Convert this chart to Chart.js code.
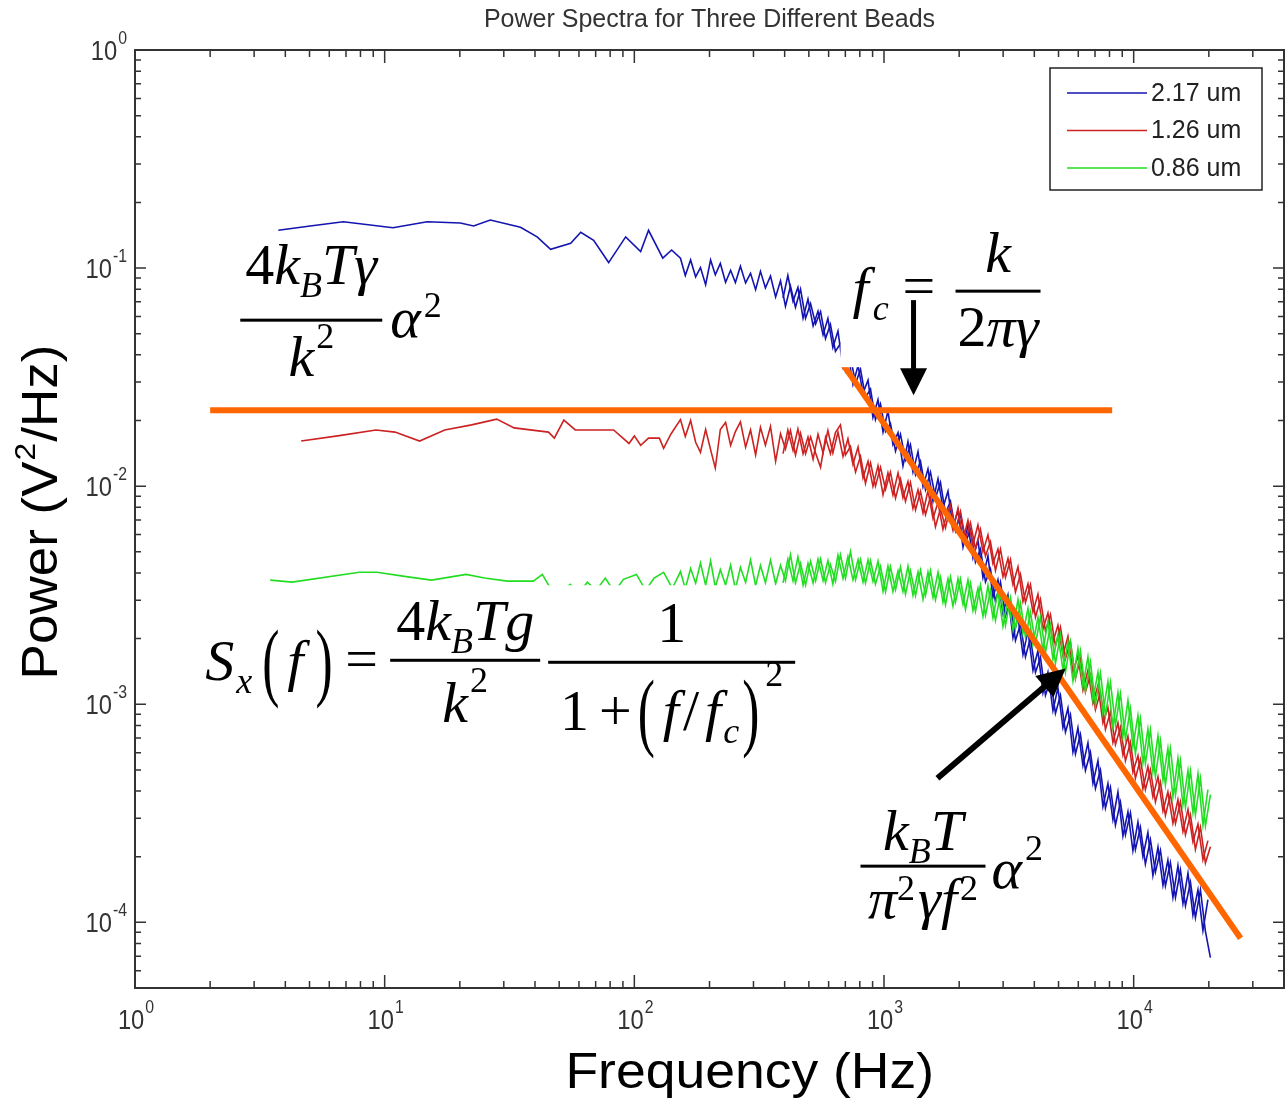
<!DOCTYPE html>
<html>
<head>
<meta charset="utf-8">
<title>Power Spectra for Three Different Beads</title>
<script src="https://cdn.jsdelivr.net/npm/chart.js@4.4.1/dist/chart.umd.min.js"></script>
<style>
  html, body { margin: 0; padding: 0; background: #fff; }
  #wrap { width: 1285px; height: 1101px; position: relative; }
</style>
</head>
<body>
<div id="wrap"><canvas id="spectra"></canvas></div>
<script>
// ---- values (frequency in Hz, power in V^2/Hz) ----
const beadLabels = ['2.17 um', '1.26 um', '0.86 um'];

// sparse low-frequency part of each spectrum
const blueLowFreq = [3.75, 5.03, 6.83, 10.8, 14.8, 20.1, 22.7, 26.5, 35.0, 40.8, 46.2, 55.6, 61.0, 68.7, 78.9, 92.3, 106, 114, 130, 141];
const blueLowPower = [0.149, 0.156, 0.163, 0.153, 0.163, 0.161, 0.156, 0.166, 0.154, 0.139, 0.122, 0.130, 0.146, 0.134, 0.106, 0.139, 0.119, 0.149, 0.111, 0.121];

const redLowFreq = [4.63, 6.48, 9.23, 11.0, 13.8, 17.4, 22.3, 28.1, 33.0, 45.3, 47.8, 52.2, 58.0, 82.6, 95.2, 100, 106, 114, 126, 131, 140];
const redLowPower = [0.0161, 0.0170, 0.0181, 0.0177, 0.0161, 0.0181, 0.0191, 0.0203, 0.0185, 0.0177, 0.0166, 0.0201, 0.0181, 0.0181, 0.0157, 0.0170, 0.0154, 0.0166, 0.0166, 0.0149, 0.0173];

const greenLowFreq = [3.48, 4.26, 7.91, 9.33, 12.0, 15.4, 21.2, 25.1, 31.0, 39.4, 42.8, 45.6, 50.5, 55.4, 59.7, 64.8, 70.4, 76.5, 83.2, 90.4, 102, 111, 120, 131, 142];
const greenLowPower = [0.00371, 0.00363, 0.00403, 0.00403, 0.00386, 0.00371, 0.00394, 0.00379, 0.00367, 0.00367, 0.00394, 0.00348, 0.00327, 0.00355, 0.00320, 0.00363, 0.00333, 0.00379, 0.00327, 0.00374, 0.00394, 0.00333, 0.00379, 0.00403, 0.00340];

// dense, noisy part (same frequency bins for all three beads)
const denseFreq = [153, 160, 168, 176, 184, 193, 202, 211, 221, 232,
  243, 254, 266, 279, 292, 306, 320, 335, 351, 368,
  385, 403, 422, 442, 463, 485, 508, 532, 557, 583,
  610, 639, 669, 701, 734, 769, 805, 843, 883, 924,
  968, 1014, 1061, 1112, 1164, 1219, 1276, 1337, 1400, 1466,
  1535, 1607, 1683, 1763, 1846, 1933, 2024, 2120, 2220, 2324,
  2434, 2549, 2669, 2795, 2927, 3065, 3210, 3361, 3520, 3686,
  3860, 4042, 4232, 4432, 4641, 4860, 5089, 5330, 5581, 5844,
  6120, 6409, 6711, 7028, 7360, 7707, 8070, 8451, 8850, 9268,
  9705, 10160, 10640, 11140, 11670, 12220, 12800, 13400, 14030, 14700,
  15390, 16120, 16880, 17670, 18510, 19380, 20290];

const blueDensePower = [0.111, 0.0925, 0.109, 0.0912, 0.1005, 0.0839, 0.109, 0.0931, 0.105, 0.0861,
  0.0977, 0.0859, 0.102, 0.0855, 0.0946, 0.0796, 0.0966, 0.0811, 0.0920, 0.0738,
  0.0875, 0.0668, 0.0826, 0.0661, 0.0800, 0.0589, 0.0687, 0.0555, 0.0632, 0.0475,
  0.0552, 0.0415, 0.0451, 0.0338, 0.0394, 0.0295, 0.0344, 0.0255, 0.0279, 0.0202,
  0.0238, 0.0178, 0.0194, 0.0145, 0.0173, 0.0132, 0.0155, 0.0113, 0.0130, 0.00964,
  0.0116, 0.00885, 0.0104, 0.00748, 0.00851, 0.00624, 0.00743, 0.00551, 0.00632, 0.00448,
  0.00514, 0.00364, 0.00417, 0.00295, 0.00363, 0.00254, 0.00294, 0.00196, 0.00233, 0.00165,
  0.00202, 0.00140, 0.00164, 0.00110, 0.00130, 0.000908, 0.00110, 0.000745, 0.000895, 0.000592,
  0.000728, 0.000497, 0.000603, 0.000411, 0.000499, 0.000334, 0.000416, 0.000279, 0.000356, 0.000252,
  0.000318, 0.000216, 0.000273, 0.000185, 0.000239, 0.000170, 0.000214, 0.000147, 0.000188, 0.000130,
  0.000174, 0.000119, 0.000153, 0.000105, 0.000141, 0.0000908, 0.0000689];

const redDensePower = [0.0202, 0.0169, 0.0200, 0.0159, 0.0143, 0.0182, 0.0147, 0.0121, 0.0182, 0.0196,
  0.0154, 0.0178, 0.0197, 0.0151, 0.0181, 0.0139, 0.0186, 0.0154, 0.0188, 0.0130,
  0.0174, 0.0148, 0.0180, 0.0139, 0.0175, 0.0141, 0.0168, 0.0142, 0.0122, 0.0167,
  0.0141, 0.0176, 0.0191, 0.0139, 0.0152, 0.0116, 0.0137, 0.0103, 0.0128, 0.0100,
  0.0122, 0.00968, 0.0116, 0.00881, 0.0108, 0.00851, 0.0104, 0.00778, 0.00946, 0.00740,
  0.00893, 0.00652, 0.00789, 0.00644, 0.00815, 0.00635, 0.00767, 0.00568, 0.00681, 0.00516,
  0.00634, 0.00478, 0.00557, 0.00411, 0.00514, 0.00382, 0.00461, 0.00327, 0.00394, 0.00293,
  0.00354, 0.00251, 0.00303, 0.00217, 0.00258, 0.00185, 0.00226, 0.00162, 0.00193, 0.00132,
  0.00161, 0.00114, 0.00136, 0.000944, 0.00114, 0.000767, 0.000923, 0.000653, 0.000785, 0.000550,
  0.000670, 0.000458, 0.000558, 0.000406, 0.000501, 0.000356, 0.000440, 0.000309, 0.000386, 0.000284,
  0.000356, 0.000252, 0.000311, 0.000216, 0.000273, 0.000187, 0.000222];

const greenDensePower = [0.00406, 0.00339, 0.00419, 0.00359, 0.00444, 0.00352, 0.00454, 0.00344, 0.00414, 0.00352,
  0.00434, 0.00337, 0.00424, 0.00362, 0.00459, 0.00350, 0.00433, 0.00361, 0.00458, 0.00357,
  0.00433, 0.00368, 0.00485, 0.00360, 0.00443, 0.00352, 0.00453, 0.00368, 0.00463, 0.00361,
  0.00437, 0.00366, 0.00484, 0.00378, 0.00501, 0.00373, 0.00461, 0.00360, 0.00455, 0.00355,
  0.00429, 0.00328, 0.00427, 0.00335, 0.00426, 0.00320, 0.00409, 0.00315, 0.00412, 0.00316,
  0.00410, 0.00301, 0.00382, 0.00286, 0.00383, 0.00294, 0.00375, 0.00272, 0.00359, 0.00267,
  0.00352, 0.00256, 0.00332, 0.00242, 0.00320, 0.00230, 0.00308, 0.00222, 0.00291, 0.00203,
  0.00264, 0.00189, 0.00251, 0.00173, 0.00229, 0.00154, 0.00208, 0.00140, 0.00193, 0.00131,
  0.00176, 0.00115, 0.00156, 0.000998, 0.00139, 0.000887, 0.00126, 0.000804, 0.00112, 0.000692,
  0.000957, 0.000593, 0.000859, 0.000536, 0.000764, 0.000466, 0.000681, 0.000427, 0.000627, 0.000384,
  0.000551, 0.000337, 0.000495, 0.000311, 0.000457, 0.000277, 0.000385];

// in-between bins above ~400 Hz, where the traces turn into a solid noisy band
const midFreq = [394, 412, 432, 452, 474, 496, 520, 544, 570, 596,
  624, 654, 685, 717, 751, 787, 824, 863, 903, 946,
  991, 1037, 1086, 1138, 1191, 1247, 1306, 1368, 1433, 1500,
  1571, 1645, 1722, 1804, 1889, 1978, 2072, 2169, 2271, 2378,
  2491, 2608, 2731, 2860, 2995, 3137, 3285, 3440, 3602, 3772,
  3950, 4136, 4331, 4535, 4749, 4973, 5208, 5454, 5711, 5980,
  6263, 6558, 6868, 7192, 7531, 7886, 8258, 8648, 9057, 9484,
  9930, 10400, 10890, 11400, 11940, 12510, 13100, 13710, 14360, 15040,
  15750, 16500, 17270, 18090, 18940, 19830];

const blueMidPower = [0.0729, 0.0925, 0.0705, 0.0815, 0.0590, 0.0721, 0.0543, 0.0634, 0.0494, 0.0587,
  0.0432, 0.0514, 0.0352, 0.0409, 0.0293, 0.0357, 0.0267, 0.0306, 0.0207, 0.0249,
  0.0177, 0.0221, 0.0155, 0.0176, 0.0124, 0.0160, 0.0116, 0.0144, 0.00995, 0.0120,
  0.00853, 0.0108, 0.00796, 0.00948, 0.00649, 0.00773, 0.00526, 0.00662, 0.00469, 0.00564,
  0.00381, 0.00479, 0.00309, 0.00372, 0.00261, 0.00317, 0.00202, 0.00251, 0.00169, 0.00217,
  0.00143, 0.00176, 0.00113, 0.00140, 0.000935, 0.00119, 0.000780, 0.000959, 0.000605, 0.000780,
  0.000524, 0.000665, 0.000434, 0.000551, 0.000340, 0.000433, 0.000296, 0.000396, 0.000249, 0.000321,
  0.000213, 0.000288, 0.000200, 0.000258, 0.000164, 0.000221, 0.000148, 0.000193, 0.000130, 0.000182,
  0.000122, 0.000168, 0.000108, 0.000141, 0.0000918, 0.000127];

const redMidPower = [0.0141, 0.0181, 0.0146, 0.0183, 0.0141, 0.0168, 0.0133, 0.0173, 0.0142, 0.0180,
  0.0142, 0.0177, 0.0137, 0.0165, 0.0126, 0.0151, 0.0109, 0.0130, 0.00998, 0.0124,
  0.00914, 0.0115, 0.00912, 0.0115, 0.00885, 0.0105, 0.00791, 0.00962, 0.00753, 0.00955,
  0.00711, 0.00841, 0.00635, 0.00785, 0.00627, 0.00793, 0.00568, 0.00697, 0.00541, 0.00664,
  0.00501, 0.00598, 0.00442, 0.00515, 0.00385, 0.00466, 0.00354, 0.00427, 0.00296, 0.00357,
  0.00265, 0.00320, 0.00221, 0.00262, 0.00193, 0.00230, 0.00168, 0.00205, 0.00140, 0.00167,
  0.00116, 0.00143, 0.00101, 0.00122, 0.000822, 0.000966, 0.000668, 0.000822, 0.000585, 0.000713,
  0.000488, 0.000581, 0.000409, 0.000518, 0.000376, 0.000465, 0.000324, 0.000396, 0.000285, 0.000365,
  0.000261, 0.000329, 0.000234, 0.000282, 0.000194, 0.000237];

const greenMidPower = [0.00360, 0.00463, 0.00368, 0.00474, 0.00352, 0.00443, 0.00360, 0.00463, 0.00369, 0.00456,
  0.00356, 0.00483, 0.00377, 0.00476, 0.00372, 0.00460, 0.00363, 0.00459, 0.00366, 0.00453,
  0.00330, 0.00430, 0.00329, 0.00409, 0.00329, 0.00430, 0.00316, 0.00404, 0.00303, 0.00404,
  0.00309, 0.00403, 0.00294, 0.00376, 0.00282, 0.00377, 0.00288, 0.00372, 0.00269, 0.00340,
  0.00253, 0.00351, 0.00249, 0.00330, 0.00228, 0.00305, 0.00220, 0.00302, 0.00212, 0.00275,
  0.00188, 0.00250, 0.00177, 0.00239, 0.00161, 0.00208, 0.00144, 0.00193, 0.00128, 0.00180,
  0.00121, 0.00165, 0.00105, 0.00140, 0.000914, 0.00127, 0.000791, 0.00113, 0.000714, 0.00104,
  0.000641, 0.000887, 0.000538, 0.000769, 0.000490, 0.000716, 0.000448, 0.000628, 0.000376, 0.000565,
  0.000346, 0.000497, 0.000319, 0.000480, 0.000279, 0.000406];

// the two orange guide lines (plateau level and 1/f^2 roll-off)
const plateauFreq = [2.0, 8200];
const plateauPower = [0.0223, 0.0223];
const rolloffFreq = [688, 26800];
const rolloffPower = [0.0359, 0.0000845];

// axis decades
const xTickExponents = [0, 1, 2, 3, 4];
const yTickExponents = [0, -1, -2, -3, -4];
const xRange = [1, 40000];
const yRange = [0.00005, 1];

// ---- helpers ----
function toPoints(freq, power) {
  return freq.map((f, i) => ({ x: f, y: power[i] }));
}

const serif = '"Liberation Serif", "Times New Roman", serif';
const sans = '"Liberation Sans", Arial, Helvetica, sans-serif';

function piece(t, size, italic, dy, gap, family, sx) {
  return { t, size, italic: !!italic, dy: dy || 0, gap: gap || 0, family: family || serif, sx: sx || 1 };
}
const it = (t, gap) => piece(t, 58, true, 0, gap);
const rm = (t, gap) => piece(t, 58, false, 0, gap);
const sub = (t, gap) => piece(t, 36, true, 13, gap);
const sup = (t, dy, gap) => piece(t, 36, false, dy, gap);
const tall = (t, gap) => piece(t, 86, false, 10, gap, serif, 0.6);

function fontOf(p) {
  return (p.italic ? 'italic ' : '') + p.size + 'px ' + p.family;
}
function runWidth(ctx, parts) {
  let w = 0;
  parts.forEach(p => { ctx.font = fontOf(p); w += ctx.measureText(p.t).width * p.sx + p.gap; });
  return w;
}
function drawRun(ctx, x, y, parts) {
  parts.forEach(p => {
    ctx.font = fontOf(p);
    const w = ctx.measureText(p.t).width * p.sx;
    ctx.save();
    ctx.translate(x, y + p.dy);
    ctx.scale(p.sx, 1);
    ctx.fillText(p.t, 0, 0);
    ctx.restore();
    x += w + p.gap;
  });
  return x;
}
function fraction(ctx, x, barY, width, num, den, numUp, denDown) {
  ctx.fillRect(x, barY - 1.5, width, 3);
  drawRun(ctx, x + (width - runWidth(ctx, num)) / 2, barY - numUp, num);
  drawRun(ctx, x + (width - runWidth(ctx, den)) / 2, barY + denDown, den);
}
function arrow(ctx, x1, y1, x2, y2, w, head) {
  const ang = Math.atan2(y2 - y1, x2 - x1);
  const len = Math.hypot(x2 - x1, y2 - y1);
  ctx.save();
  ctx.translate(x2, y2);
  ctx.rotate(ang);
  ctx.fillRect(-len, -w / 2, len - head * 0.8, w);
  ctx.beginPath();
  ctx.moveTo(0, 0);
  ctx.lineTo(-head, -head * 0.5);
  ctx.lineTo(-head, head * 0.5);
  ctx.closePath();
  ctx.fill();
  ctx.restore();
}
function logTicks(min, max) {
  const out = [];
  for (let e = Math.floor(Math.log10(min)); e <= Math.ceil(Math.log10(max)); e++) {
    for (let m = 1; m < 10; m++) {
      const v = m * Math.pow(10, e);
      if (v >= min * 0.999 && v <= max * 1.001) out.push({ v, major: m === 1 });
    }
  }
  return out;
}
// "10" with a raised exponent, slightly condensed like the MATLAB screen font
function powerLabel(ctx, x, y, exp, align) {
  const parts = [piece('10', 27, false, 0, 1, sans, 0.88), piece(String(exp), 18, false, -16, 0, sans, 0.88)];
  const total = runWidth(ctx, parts);
  drawRun(ctx, align === 'right' ? x - total : x - total / 2, y, parts);
}

// ---- annotation anchors, in data units ----
const eqPlateau = { f: 2.64, p: 0.0577 };
const eqCorner = { f: 748, p: 0.0662 };
const eqModel = { f: 1.91, p: 0.001288 };
const eqTail = { f: 805, p: 0.000181 };
const arrowCorner = [[1313, 0.0713], [1313, 0.0261]];
const arrowTail = [[1637, 0.000458], [5340, 0.00146]];

const matlabAxes = {
  id: 'matlabAxes',
  beforeDatasetsDraw(chart) {
    const { ctx, chartArea: a, scales: { x, y } } = chart;
    ctx.save();
    ctx.strokeStyle = '#333';
    ctx.lineWidth = 1.5;
    ctx.beginPath();
    logTicks(x.min, x.max).forEach(t => {
      const px = x.getPixelForValue(t.v);
      const len = t.major ? 13 : 7;
      ctx.moveTo(px, a.bottom); ctx.lineTo(px, a.bottom - len);
      ctx.moveTo(px, a.top); ctx.lineTo(px, a.top + len);
    });
    logTicks(y.min, y.max).forEach(t => {
      const py = y.getPixelForValue(t.v);
      const len = t.major ? 11 : 6;
      ctx.moveTo(a.left, py); ctx.lineTo(a.left + len, py);
      ctx.moveTo(a.right, py); ctx.lineTo(a.right - len, py);
    });
    ctx.stroke();
    ctx.lineWidth = 2;
    ctx.strokeRect(a.left, a.top, a.right - a.left, a.bottom - a.top);

    // tick labels
    ctx.fillStyle = '#333';
    ctx.textBaseline = 'alphabetic';
    ctx.textAlign = 'left';
    xTickExponents.forEach(e => {
      powerLabel(ctx, x.getPixelForValue(Math.pow(10, e)) + 1, a.bottom + 41, e, 'center');
    });
    yTickExponents.forEach(e => {
      powerLabel(ctx, a.left - 8, y.getPixelForValue(Math.pow(10, e)) + 10, e, 'right');
    });

    // title
    const tt = [piece('Power Spectra for Three Different Beads', 25, false, 0, 0, sans)];
    drawRun(ctx, (a.left + a.right) / 2 - runWidth(ctx, tt) / 2, 27, tt);

    // axis titles
    ctx.fillStyle = '#000';
    const xt = [piece('Frequency (Hz)', 50, false, 0, 0, sans, 1.07)];
    drawRun(ctx, a.left + (a.right - a.left) * 0.535 - runWidth(ctx, xt) / 2, a.bottom + 100, xt);

    const yt = [piece('Power (V', 50, false, 0, 1, sans, 1.06), piece('2', 30, false, -22, 1, sans, 1.06), piece('/Hz)', 50, false, 0, 0, sans, 1.06)];
    const yw = runWidth(ctx, yt);
    ctx.save();
    ctx.translate(57, (a.top + a.bottom) / 2 - 7);
    ctx.rotate(-Math.PI / 2);
    drawRun(ctx, -yw / 2, 0, yt);
    ctx.restore();
    ctx.restore();
  },
  afterDatasetsDraw(chart) {
    const { ctx, chartArea: a, scales: { x, y } } = chart;
    const px = f => x.getPixelForValue(f);
    const py = p => y.getPixelForValue(p);
    ctx.save();
    ctx.textAlign = 'left';
    ctx.textBaseline = 'alphabetic';

    // 1) plateau level 4 kB T gamma / k^2 * alpha^2
    let ax = px(eqPlateau.f), ay = py(eqPlateau.p);
    ctx.fillStyle = '#000';
    fraction(ctx, ax, ay, 142,
      [rm('4'), it('k'), sub('B'), it('T'), it('γ')],
      [it('k', 2), sup('2', -28)], 36, 56);
    drawRun(ctx, ax + 150, ay + 17, [it('α', 3), sup('2', -20)]);

    // 2) corner frequency fc = k / 2 pi gamma (on a white patch)
    ax = px(eqCorner.f); ay = py(eqCorner.p);
    ctx.fillStyle = '#fff';
    ctx.fillRect(ax - 12, ay - 79, 205, 139);
    ctx.fillStyle = '#000';
    drawRun(ctx, ax, ay, [it('f', 4), sub('c')]);
    drawRun(ctx, ax + 50, ay - 2, [rm('=')]);
    fraction(ctx, ax + 103, ay - 16, 85, [it('k')], [rm('2'), it('π'), it('γ')], 19, 55);

    // 3) Lorentzian model S_x(f)
    ax = px(eqModel.f); ay = py(eqModel.p);
    ctx.fillStyle = '#fff';
    ctx.fillRect(ax - 10, ay - 95, 605, 178);
    ctx.fillStyle = '#000';
    drawRun(ctx, ax, ay, [it('S', 2), sub('x')]);
    drawRun(ctx, ax + 57, ay, [tall('(', 8), it('f', 12), tall(')')]);
    drawRun(ctx, ax + 140, ay - 2, [rm('=')]);
    fraction(ctx, ax + 185, ay - 20, 150,
      [rm('4'), it('k'), sub('B'), it('T'), it('g')],
      [it('k', 2), sup('2', -30)], 20, 62);
    fraction(ctx, ax + 343, ay - 18, 247,
      [rm('1')],
      [rm('1', 10), rm('+', 6), tall('(', 8), it('f', 4), rm('/', 6), it('f', 2), sub('c', 3), tall(')', 6), sup('2', -44)],
      20, 68);

    // 4) high frequency tail kB T / pi^2 gamma f^2 * alpha^2
    ax = px(eqTail.f); ay = py(eqTail.p);
    fraction(ctx, ax, ay, 125,
      [it('k'), sub('B'), it('T')],
      [it('π'), sup('2', -18, 3), it('γ'), it('f', 3), sup('2', -18)], 16, 52);
    drawRun(ctx, ax + 131, ay + 22, [it('α', 3), sup('2', -28)]);

    // arrows
    arrow(ctx, px(arrowCorner[0][0]), py(arrowCorner[0][1]), px(arrowCorner[1][0]), py(arrowCorner[1][1]), 5, 27);
    arrow(ctx, px(arrowTail[0][0]), py(arrowTail[0][1]), px(arrowTail[1][0]), py(arrowTail[1][1]), 6, 28);

    // MATLAB style legend box
    const bx = a.right - 234, by = a.top + 18, bw = 212, bh = 122;
    ctx.fillStyle = '#fff';
    ctx.fillRect(bx, by, bw, bh);
    ctx.strokeStyle = '#222';
    ctx.lineWidth = 1.5;
    ctx.strokeRect(bx, by, bw, bh);
    ctx.font = '25px ' + sans;
    ctx.textBaseline = 'middle';
    beadLabels.forEach((label, i) => {
      const ds = chart.data.datasets[i];
      const ly = by + 25 + i * 37.5;
      ctx.strokeStyle = ds.borderColor;
      ctx.lineWidth = 1.5;
      ctx.beginPath();
      ctx.moveTo(bx + 17, ly);
      ctx.lineTo(bx + 97, ly);
      ctx.stroke();
      ctx.fillStyle = '#222';
      ctx.fillText(label, bx + 101, ly + 1);
    });
    ctx.restore();
  }
};

const seriesColors = ['#1414b0', '#cc2222', '#22dd22'];

function trace(label, points, color, order) {
  return { label, data: points, borderColor: color, borderWidth: 1.6, order };
}

const ctx = document.getElementById('spectra');
new Chart(ctx, {
  type: 'line',
  data: {
    datasets: [
      trace(beadLabels[0], toPoints(blueLowFreq.concat(denseFreq), blueLowPower.concat(blueDensePower)), seriesColors[0], 3),
      trace(beadLabels[1], toPoints(redLowFreq.concat(denseFreq), redLowPower.concat(redDensePower)), seriesColors[1], 2),
      trace(beadLabels[2], toPoints(greenLowFreq.concat(denseFreq), greenLowPower.concat(greenDensePower)), seriesColors[2], 1),
      // in-between bins of the same three spectra
      trace(beadLabels[0] + ' (mid bins)', toPoints(midFreq, blueMidPower), seriesColors[0], 3),
      trace(beadLabels[1] + ' (mid bins)', toPoints(midFreq, redMidPower), seriesColors[1], 2),
      trace(beadLabels[2] + ' (mid bins)', toPoints(midFreq, greenMidPower), seriesColors[2], 1),
      {
        label: 'plateau',
        data: toPoints(plateauFreq, plateauPower),
        borderColor: '#ff6600',
        borderWidth: 6,
        borderCapStyle: 'butt',
        order: 0
      },
      {
        label: 'roll-off',
        data: toPoints(rolloffFreq, rolloffPower),
        borderColor: '#ff6600',
        borderWidth: 6,
        borderCapStyle: 'butt',
        order: 0
      }
    ]
  },
  options: {
    responsive: true,
    maintainAspectRatio: false,
    animation: false,
    devicePixelRatio: 1,
    layout: { padding: { left: 135, top: 50, right: 1, bottom: 113 } },
    elements: { point: { radius: 0 }, line: { tension: 0 } },
    scales: {
      x: { type: 'logarithmic', min: xRange[0], max: xRange[1], display: false },
      y: { type: 'logarithmic', min: yRange[0], max: yRange[1], display: false }
    },
    plugins: {
      legend: { display: false },
      tooltip: { enabled: false }
    }
  },
  plugins: [matlabAxes]
});
</script>
</body>
</html>
